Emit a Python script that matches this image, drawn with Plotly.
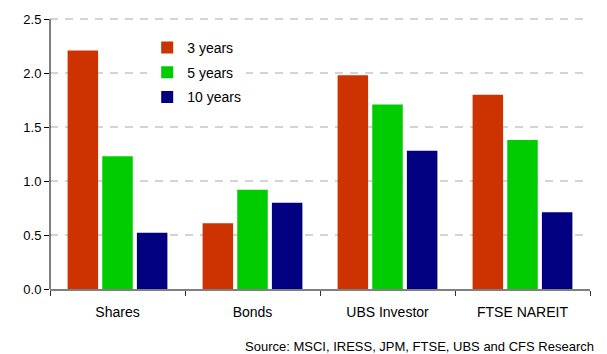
import plotly.graph_objects as go

categories = ["Shares", "Bonds", "UBS Investor", "FTSE NAREIT"]
series_names = ["3 years", "5 years", "10 years"]
values_3y = [2.21, 0.61, 1.98, 1.80]
values_5y = [1.23, 0.92, 1.71, 1.38]
values_10y = [0.52, 0.80, 1.28, 0.71]
colors = ["#CC3300", "#00CC00", "#000080"]
y_ticks = [0.0, 0.5, 1.0, 1.5, 2.0, 2.5]
source_text = "Source: MSCI, IRESS, JPM, FTSE, UBS and CFS Research"

fig = go.Figure()
for i, (name, vals) in enumerate(zip(series_names, [values_3y, values_5y, values_10y])):
    fig.add_trace(go.Bar(
        x=categories, y=vals, name=name,
        marker=dict(color=colors[i], line=dict(width=0)),
        legendgroup=name,
    ))

font_family = "Liberation Sans, Arial, sans-serif"
grid_color = "#D4D4D4"
fig.update_layout(
    width=607, height=354,
    margin=dict(l=50, r=17, t=13, b=65),
    paper_bgcolor="white", plot_bgcolor="white",
    barmode="group", bargap=0.23, bargroupgap=0.12,
    font=dict(family=font_family, size=13, color="black"),
    showlegend=True,
    legend=dict(
        x=0.18, y=0.945, xanchor="left", yanchor="top",
        bgcolor="white", borderwidth=0,
        font=dict(size=14, family=font_family),
        tracegroupgap=3.5, itemwidth=30,
    ),
    xaxis=dict(
        showline=True, linecolor="#808080", linewidth=2,
        ticks="outside", tickson="boundaries", ticklen=5, tickcolor="#333333",
        tickfont=dict(size=14), showgrid=False, ticklabelstandoff=9,
    ),
    yaxis=dict(
        range=[0, 2.52], tickvals=y_ticks, ticktext=[f"{v:.1f}" for v in y_ticks],
        showline=False,
        ticks="outside", ticklen=5, tickcolor="black",
        tickfont=dict(size=13),
        showgrid=True, gridcolor=grid_color, gridwidth=1.5, griddash="8px,7px",
        zeroline=False,
    ),
    shapes=[dict(
        type="line", xref="paper", yref="y", x0=0, x1=0,
        y0=0, y1=y_ticks[-1], layer="above",
        line=dict(color="black", width=1),
    )],
    annotations=[dict(
        text=source_text, xref="paper", yref="paper",
        x=1.012, y=-0.175, xanchor="right", yanchor="top",
        showarrow=False, font=dict(size=13, family=font_family),
    )],
)

fig.write_html("out.html")
